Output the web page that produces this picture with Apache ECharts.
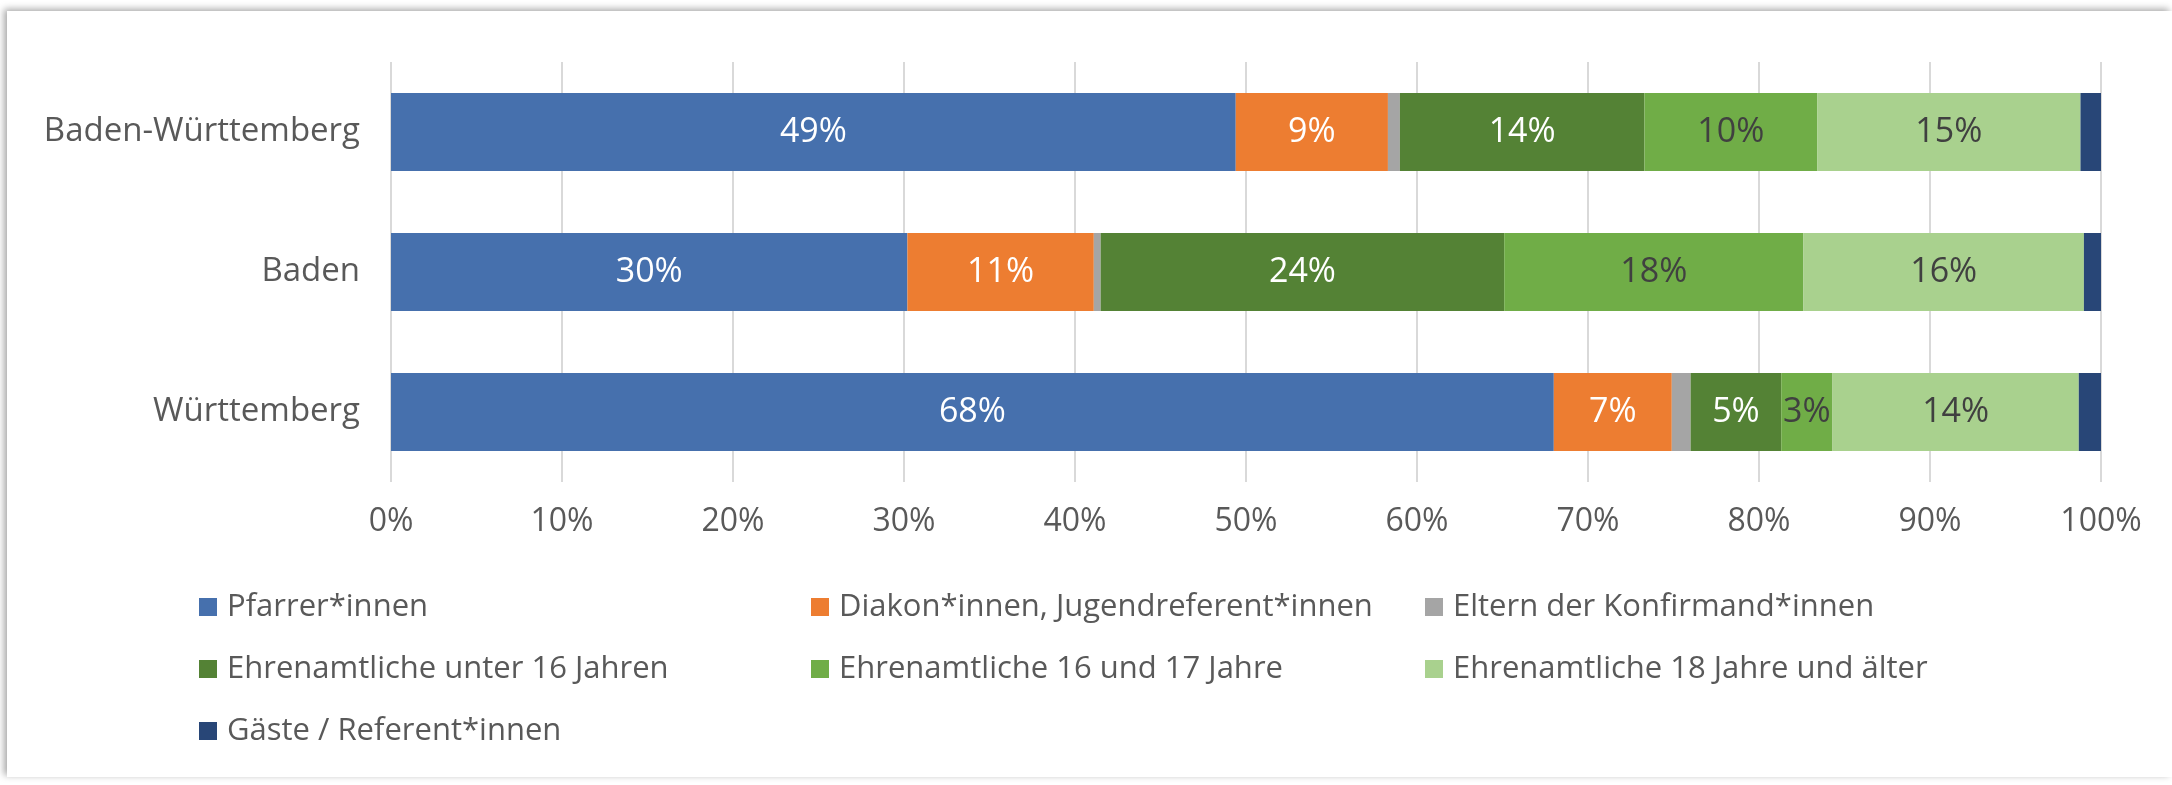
<!DOCTYPE html>
<html>
<head>
<meta charset="utf-8">
<script src="https://cdn.jsdelivr.net/npm/echarts@6/dist/echarts.min.js"></script>
<style>
    html, body { margin: 0; background: #ffffff; overflow: hidden; width: 2172px; height: 785px; }
    #frame { position: absolute; left: 7px; top: 11px; width: 2165px; height: 766px; background: #ffffff; box-shadow: -3px -2px 7px rgba(0, 0, 0, 0.35); }
    #chart { position: absolute; left: 0; top: 0; width: 2172px; height: 785px; }
</style>
</head>
<body>
<div id="frame"></div>
<div id="chart"></div>
<script>
// Regionen (von oben nach unten)
var regionen = ['Baden-Württemberg', 'Baden', 'Württemberg'];

var namen = [
    'Pfarrer*innen',
    'Diakon*innen, Jugendreferent*innen',
    'Eltern der Konfirmand*innen',
    'Ehrenamtliche unter 16 Jahren',
    'Ehrenamtliche 16 und 17 Jahre',
    'Ehrenamtliche 18 Jahre und älter',
    'Gäste / Referent*innen'
];

// Anteile in Prozent, je Region
var pfarrer = [49.4, 30.2, 68.0];
var diakone = [8.9, 10.9, 6.9];
var eltern = [0.7, 0.4, 1.1];
var ehrenU16 = [14.3, 23.6, 5.3];
var ehren1617 = [10.1, 17.5, 3.0];
var ehren18 = [15.4, 16.4, 14.4];
var gaeste = [1.2, 1.0, 1.3];

var xTicks = ['0%', '10%', '20%', '30%', '40%', '50%', '60%', '70%', '80%', '90%', '100%'];

var farben = ['#4670ad', '#ed7d31', '#a5a5a5', '#548235', '#70ad47', '#a9d18e', '#284677'];
var labelFarben = ['#ffffff', '#ffffff', '#ffffff', '#ffffff', '#404040', '#404040', '#ffffff'];
var werte = [pfarrer, diakone, eltern, ehrenU16, ehren1617, ehren18, gaeste];

var fuente = '"Open Sans", sans-serif';

function crearSerie(i) {
    return {
        name: namen[i],
        type: 'bar',
        stack: 'total',
        barWidth: 78,
        data: werte[i],
        itemStyle: {color: farben[i]},
        label: {
            show: true,
            position: 'inside',
            color: labelFarben[i],
            fontFamily: fuente,
            fontSize: 34,
            formatter: function (p) {
                if (p.value < 2) {
                    return '';
                }
                return Math.round(p.value) + '%';
            }
        }
    };
}

function crearLegende(left, items) {
    return {
        orient: 'vertical',
        left: left,
        top: 581,
        itemWidth: 18,
        itemHeight: 18,
        itemGap: 20,
        icon: 'rect',
        selectedMode: false,
        data: items,
        textStyle: {
            color: '#595959',
            fontFamily: fuente,
            fontSize: 31,
            lineHeight: 42,
            padding: [0, 0, 0, 5]
        }
    };
}

var series = [];
for (var i = 0; i < werte.length; i++) {
    series.push(crearSerie(i));
}

var chart = echarts.init(document.getElementById('chart'));
chart.setOption({
    animation: false,
    grid: {left: 391, right: 71, top: 62, bottom: 303, containLabel: false},
    legend: [
        crearLegende(194, [namen[0], namen[3], namen[6]]),
        crearLegende(806, [namen[1], namen[4]]),
        crearLegende(1420, [namen[2], namen[5]])
    ],
    xAxis: {
        type: 'value',
        min: 0,
        max: 100,
        interval: 10,
        axisLine: {show: false},
        axisTick: {show: false},
        splitLine: {lineStyle: {color: '#d9d9d9', width: 2}},
        axisLabel: {
            color: '#595959',
            fontFamily: fuente,
            fontSize: 32,
            margin: 24,
            formatter: function (v) {
                return xTicks[Math.round(v / 10)];
            }
        }
    },
    yAxis: {
        type: 'category',
        inverse: true,
        data: regionen,
        axisLine: {show: false},
        axisTick: {show: false},
        axisLabel: {
            color: '#595959',
            fontFamily: fuente,
            fontSize: 33,
            margin: 31
        }
    },
    series: series
});
</script>
</body>
</html>
